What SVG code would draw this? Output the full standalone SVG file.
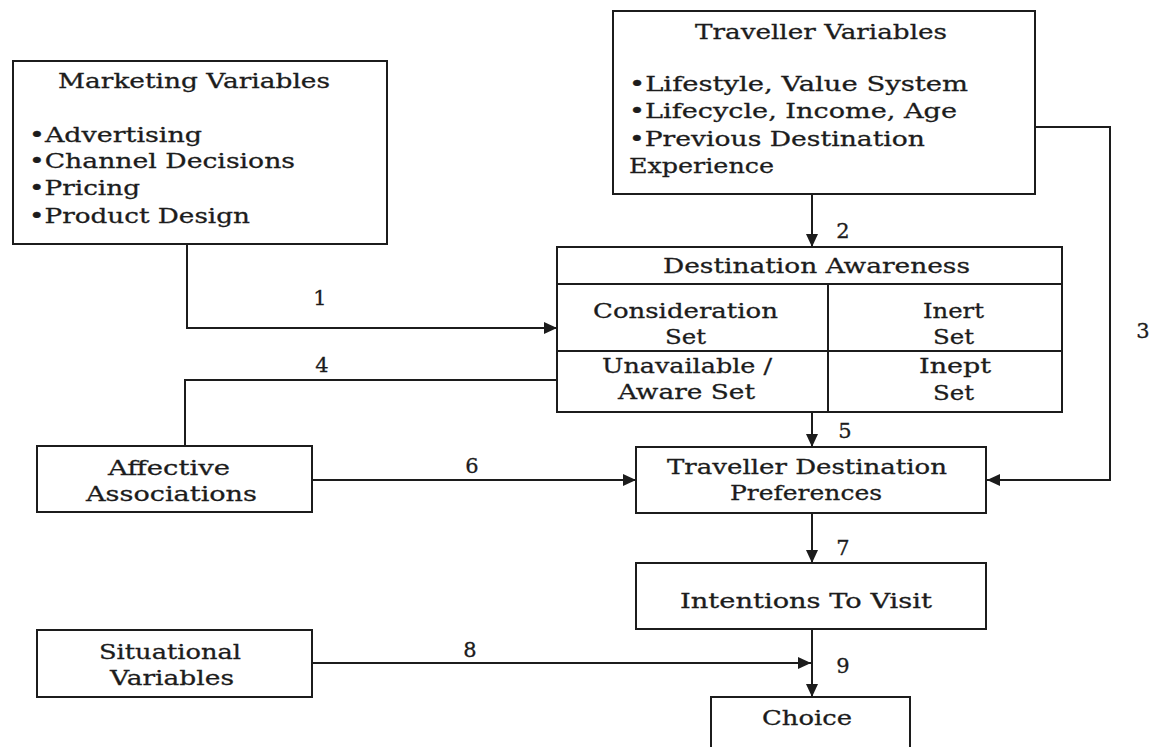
<svg xmlns="http://www.w3.org/2000/svg" width="1156" height="747" viewBox="0 0 1156 747">
  <defs>
    <style>
      .box { fill: #ffffff; stroke: #1c1c1c; stroke-width: 2; }
      .rule { fill: none; stroke: #1c1c1c; stroke-width: 2; }
      .wire { fill: none; stroke: #1c1c1c; stroke-width: 2; }
      .t { font-family: "DejaVu Serif", "Liberation Serif", serif; font-size: 21px; fill: #1c1c1c; stroke: #1c1c1c; stroke-width: 0.3; }
      .n { font-family: "DejaVu Serif", "Liberation Serif", serif; font-size: 21px; fill: #1c1c1c; stroke: #1c1c1c; stroke-width: 0.3; text-anchor: middle; }
    </style>
    <marker id="arrow" viewBox="0 0 13 12" refX="13" refY="6" markerWidth="13" markerHeight="12" markerUnits="userSpaceOnUse" orient="auto">
      <path d="M0,0 L13,6 L0,12 Z" fill="#1c1c1c"/>
    </marker>
  </defs>

  <rect width="1156" height="747" fill="#ffffff"/>

  <!-- connectors -->
  <g id="connectors">
    <path class="wire" d="M187,244 V328 H557" marker-end="url(#arrow)"/>
    <path class="wire" d="M812,194 V247" marker-end="url(#arrow)"/>
    <path class="wire" d="M1035,127 H1110 V480 H987" marker-end="url(#arrow)"/>
    <path class="wire" d="M557,380 H185 V446" stroke-linecap="square"/>
    <path class="wire" d="M812,412 V447" marker-end="url(#arrow)"/>
    <path class="wire" d="M312,480 H636" marker-end="url(#arrow)"/>
    <path class="wire" d="M812,513 V563" marker-end="url(#arrow)"/>
    <path class="wire" d="M312,663 H811" marker-end="url(#arrow)"/>
    <path class="wire" d="M812,629 V697" marker-end="url(#arrow)"/>

    <text class="n" x="320" y="305">1</text>
    <text class="n" x="843" y="238">2</text>
    <text class="n" x="1143" y="338">3</text>
    <text class="n" x="322" y="372">4</text>
    <text class="n" x="845" y="438">5</text>
    <text class="n" x="472" y="473">6</text>
    <text class="n" x="843" y="555">7</text>
    <text class="n" x="470" y="657">8</text>
    <text class="n" x="843" y="673">9</text>
  </g>

  <!-- marketing variables -->
  <g id="marketing">
    <rect class="box" x="13" y="61" width="374" height="183"/>
    <text class="t" x="58" y="88" textLength="272" lengthAdjust="spacingAndGlyphs">Marketing Variables</text>
    <text class="t" x="29" y="142" textLength="173" lengthAdjust="spacingAndGlyphs">•Advertising</text>
    <text class="t" x="29" y="168" textLength="266" lengthAdjust="spacingAndGlyphs">•Channel Decisions</text>
    <text class="t" x="29" y="195" textLength="111" lengthAdjust="spacingAndGlyphs">•Pricing</text>
    <text class="t" x="29" y="223" textLength="221" lengthAdjust="spacingAndGlyphs">•Product Design</text>
  </g>

  <!-- traveller variables -->
  <g id="traveller">
    <rect class="box" x="613" y="11" width="422" height="183"/>
    <text class="t" x="695" y="39" textLength="252" lengthAdjust="spacingAndGlyphs">Traveller Variables</text>
    <text class="t" x="629" y="91" textLength="339" lengthAdjust="spacingAndGlyphs">•Lifestyle, Value System</text>
    <text class="t" x="629" y="118" textLength="328" lengthAdjust="spacingAndGlyphs">•Lifecycle, Income, Age</text>
    <text class="t" x="629" y="146" textLength="296" lengthAdjust="spacingAndGlyphs">•Previous Destination</text>
    <text class="t" x="629" y="173" textLength="145" lengthAdjust="spacingAndGlyphs">Experience</text>
  </g>

  <!-- destination awareness table -->
  <g id="awareness">
    <rect class="box" x="557" y="247" width="505" height="165"/>
    <path class="rule" d="M557,284 H1062 M557,351 H1062 M828,284 V412"/>
    <text class="t" x="663" y="273" textLength="307" lengthAdjust="spacingAndGlyphs">Destination Awareness</text>
    <text class="t" x="593" y="318" textLength="185" lengthAdjust="spacingAndGlyphs">Consideration</text>
    <text class="t" x="665" y="344" textLength="41" lengthAdjust="spacingAndGlyphs">Set</text>
    <text class="t" x="602" y="373" textLength="170" lengthAdjust="spacingAndGlyphs">Unavailable /</text>
    <text class="t" x="618" y="399" textLength="137" lengthAdjust="spacingAndGlyphs">Aware Set</text>
    <text class="t" x="923" y="318" textLength="61" lengthAdjust="spacingAndGlyphs">Inert</text>
    <text class="t" x="933" y="344" textLength="41" lengthAdjust="spacingAndGlyphs">Set</text>
    <text class="t" x="919" y="373" textLength="72" lengthAdjust="spacingAndGlyphs">Inept</text>
    <text class="t" x="933" y="400" textLength="41" lengthAdjust="spacingAndGlyphs">Set</text>
  </g>

  <!-- affective associations -->
  <g id="affective">
    <rect class="box" x="37" y="446" width="275" height="66"/>
    <text class="t" x="108" y="475" textLength="122" lengthAdjust="spacingAndGlyphs">Affective</text>
    <text class="t" x="86" y="501" textLength="171" lengthAdjust="spacingAndGlyphs">Associations</text>
  </g>

  <!-- traveller destination preferences -->
  <g id="preferences">
    <rect class="box" x="636" y="447" width="350" height="66"/>
    <text class="t" x="667" y="474" textLength="280" lengthAdjust="spacingAndGlyphs">Traveller Destination</text>
    <text class="t" x="730" y="500" textLength="152" lengthAdjust="spacingAndGlyphs">Preferences</text>
  </g>

  <!-- intentions to visit -->
  <g id="intentions">
    <rect class="box" x="636" y="563" width="350" height="66"/>
    <text class="t" x="680" y="608" textLength="252" lengthAdjust="spacingAndGlyphs">Intentions To Visit</text>
  </g>

  <!-- situational variables -->
  <g id="situational">
    <rect class="box" x="37" y="630" width="275" height="67"/>
    <text class="t" x="99" y="659" textLength="142" lengthAdjust="spacingAndGlyphs">Situational</text>
    <text class="t" x="110" y="685" textLength="124" lengthAdjust="spacingAndGlyphs">Variables</text>
  </g>

  <!-- choice -->
  <g id="choice">
    <rect class="box" x="711" y="697" width="199" height="52"/>
    <text class="t" x="762" y="725" textLength="90" lengthAdjust="spacingAndGlyphs">Choice</text>
  </g>
</svg>
